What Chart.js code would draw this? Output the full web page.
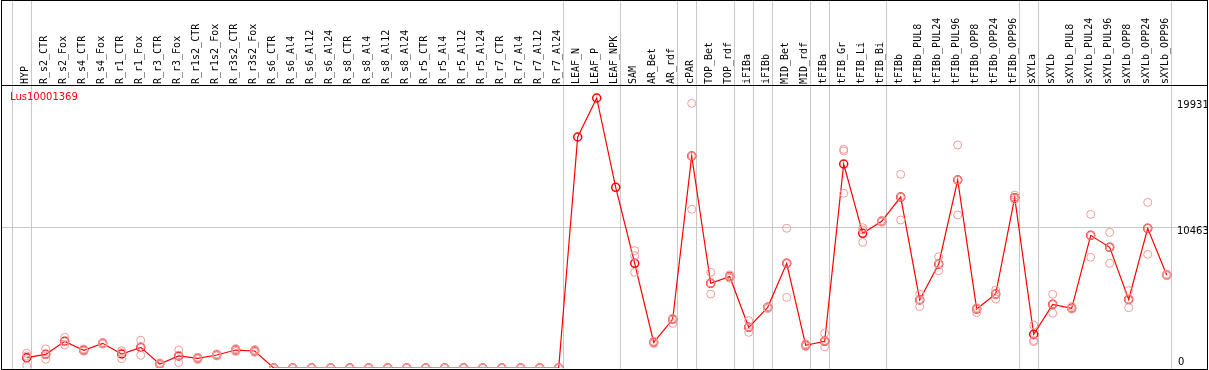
<!DOCTYPE html>
<html>
<head>
<meta charset="utf-8">
<script src="https://cdn.jsdelivr.net/npm/chart.js@4"></script>
<style>
  body { margin: 0; background: #fff; }
  canvas { display: block; }
</style>
</head>
<body>
<canvas id="myChart" width="1209" height="370"></canvas>
<script>
const geneName = 'Lus10001369'

const categories = ['HYP', 'R_s2_CTR', 'R_s2_Fox', 'R_s4_CTR', 'R_s4_Fox', 'R_r1_CTR', 'R_r1_Fox', 'R_r3_CTR', 'R_r3_Fox',
  'R_r1s2_CTR', 'R_r1s2_Fox', 'R_r3s2_CTR', 'R_r3s2_Fox', 'R_s6_CTR', 'R_s6_Al4', 'R_s6_Al12', 'R_s6_Al24',
  'R_s8_CTR', 'R_s8_Al4', 'R_s8_Al12', 'R_s8_Al24', 'R_r5_CTR', 'R_r5_Al4', 'R_r5_Al12', 'R_r5_Al24',
  'R_r7_CTR', 'R_r7_Al4', 'R_r7_Al12', 'R_r7_Al24', 'LEAF_N', 'LEAF_P', 'LEAF_NPK', 'SAM', 'AR_Bet', 'AR_rdf',
  'cPAR', 'TOP_Bet', 'TOP_rdf', 'iFIBa', 'iFIBb', 'MID_Bet', 'MID_rdf', 'tFIBa', 'tFIB_Gr', 'tFIB_Li', 'tFIB_Bi',
  'tFIBb', 'tFIBb_PUL8', 'tFIBb_PUL24', 'tFIBb_PUL96', 'tFIBb_OPP8', 'tFIBb_OPP24', 'tFIBb_OPP96',
  'sXYLa', 'sXYLb', 'sXYLb_PUL8', 'sXYLb_PUL24', 'sXYLb_PUL96', 'sXYLb_OPP8', 'sXYLb_OPP24', 'sXYLb_OPP96']

const meanValues = [770, 1020, 1990, 1320, 1840, 1045, 1540, 300, 900,
  720, 970, 1340, 1270, 0, 0, 0, 0,
  0, 0, 0, 0, 0, 0, 0, 0,
  0, 0, 0, 0, 17240, 20150, 13480, 7810, 1915, 3630,
  15820, 6320, 6820, 3035, 4527, 7810, 1690, 1990, 15224, 10050, 10945,
  12760, 5075, 7760, 14030, 4400, 5520, 12710,
  2510, 4750, 4450, 9900, 9005, 5120, 10425, 6940]

const rep1 = [1100, 1420, 2290, 1420, 1900, 1290, 2070, 380, 1340,
  800, 1050, 1450, 1380, 0, 0, 0, 0,
  0, 0, 0, 0, 0, 0, 0, 0,
  0, 0, 0, 0, null, null, null, 8760, 2000, 3700,
  19750, 7140, 6950, 3530, 4550, 10425, 1800, 2590, 16320, 10470, 11000,
  14455, 5520, 8300, 16640, 4500, 5820, 12900,
  3210, 5500, 4600, 11470, 10120, 5770, 12360, 7000]

const rep2 = [900, 1000, 1960, 1300, 1840, 1150, 1600, 300, 950,
  720, 960, 1340, 1270, 0, 0, 0, 0,
  0, 0, 0, 0, 0, 0, 0, 0,
  0, 0, 0, 0, null, null, null, 8380, 1900, 3600,
  15820, 6320, 6820, 3035, 4500, 7810, 1690, 1990, 16200, 10300, 10945,
  12760, 5075, 7760, 14030, 4400, 5520, 12710,
  2050, 4750, 4450, 9900, 9005, 5120, 10425, 6940]

const rep3 = [170, 650, 1720, 1250, 1780, 700, 950, 220, 400,
  640, 900, 1230, 1160, 0, 0, 0, 0,
  0, 0, 0, 0, 0, 0, 0, 0,
  0, 0, 0, 0, null, null, null, 7140, 1830, 3330,
  11840, 5520, 6700, 2660, 4430, 5270, 1600, 1590, 13035, 9380, 10880,
  11045, 4580, 7260, 11420, 4130, 5150, 12560,
  1965, 4080, 4400, 8260, 7810, 4500, 8480, 6880]

// last category of each sample group
const groupEnds = [-1, 0, 28, 31, 34, 35, 37, 38, 39, 41, 42, 45, 52, 53, 60]

const yLabels = [19931, 10463, 0]

const toPoints = (arr) => arr.map((v, i) => ({ x: i, y: v }))

const repStyle = {
  showLine: false,
  borderColor: '#f09a9a',
  pointBorderColor: '#f09a9a',
  pointBackgroundColor: 'rgba(0,0,0,0)',
  pointRadius: 4,
  pointBorderWidth: 1
}

const framePlugin = {
  id: 'frame',
  beforeDatasetsDraw(chart) {
    const ctx = chart.ctx
    const x = chart.scales.x
    ctx.save()
    ctx.strokeStyle = '#c8c8c8'
    ctx.lineWidth = 1
    groupEnds.forEach(g => {
      const px = Math.round(x.getPixelForValue(g + 0.21)) + 0.5
      ctx.beginPath()
      ctx.moveTo(px, 0)
      ctx.lineTo(px, chart.height)
      ctx.stroke()
    })
    ctx.restore()
  },
  afterDraw(chart) {
    const ctx = chart.ctx
    const y = chart.scales.y
    const area = chart.chartArea
    ctx.save()
    ctx.strokeStyle = '#000'
    ctx.lineWidth = 1
    ctx.strokeRect(1.5, 0.5, 1206, 369)
    ctx.beginPath()
    ctx.moveTo(1, 85.5)
    ctx.lineTo(1208, 85.5)
    ctx.stroke()

    ctx.font = '10px "DejaVu Sans"'
    ctx.fillStyle = '#000'
    ctx.textAlign = 'left'
    yLabels.forEach(v => {
      const py = y.getPixelForValue(v)
      if (v === 0) {
        ctx.textBaseline = 'bottom'
        ctx.fillText(String(v), 1178, py - 1)
      } else {
        ctx.textBaseline = 'top'
        ctx.fillText(String(v), 1177, py - 1)
      }
    })

    ctx.fillStyle = '#ff0000'
    ctx.textBaseline = 'middle'
    ctx.fillText(geneName, 10, area.top + 11)
    ctx.restore()
  }
}

const ctx = document.getElementById('myChart')

new Chart(ctx, {
  type: 'line',
  data: {
    datasets: [
      { data: toPoints(rep1), ...repStyle },
      { data: toPoints(rep2), ...repStyle },
      { data: toPoints(rep3), ...repStyle },
      {
        data: toPoints(meanValues),
        borderColor: '#ff0000',
        borderWidth: 1.2,
        tension: 0,
        pointBorderColor: '#ff0000',
        pointBackgroundColor: 'rgba(0,0,0,0)',
        pointRadius: 4,
        pointBorderWidth: 1.5
      }
    ]
  },
  options: {
    responsive: false,
    animation: false,
    layout: { autoPadding: false, padding: { left: 1, right: 1, top: 0, bottom: 2 } },
    plugins: {
      legend: { display: false },
      tooltip: { enabled: false }
    },
    scales: {
      x: {
        type: 'linear',
        position: 'top',
        min: -1.3526,
        max: 62.174,
        grid: { display: false, drawTicks: false },
        border: { display: false },
        afterBuildTicks: (scale) => {
          scale.ticks = categories.map((c, i) => ({ value: i }))
        },
        afterFit: (scale) => {
          scale.height = 86
          scale.paddingLeft = 0
          scale.paddingRight = 0
        },
        ticks: {
          autoSkip: false,
          maxRotation: 90,
          minRotation: 90,
          padding: 2,
          labelOffset: 11,
          color: '#000',
          font: { family: 'DejaVu Sans Mono', size: 10 },
          callback: (v) => categories[v]
        }
      },
      y: {
        min: 0,
        max: 21045,
        border: { display: false },
        grid: { color: '#c8c8c8', lineWidth: 1, drawTicks: false },
        afterBuildTicks: (scale) => {
          scale.ticks = [{ value: 10463 }]
        },
        afterFit: (scale) => { scale.width = 0 },
        ticks: { display: false }
      }
    }
  },
  plugins: [framePlugin]
})
</script>
</body>
</html>
